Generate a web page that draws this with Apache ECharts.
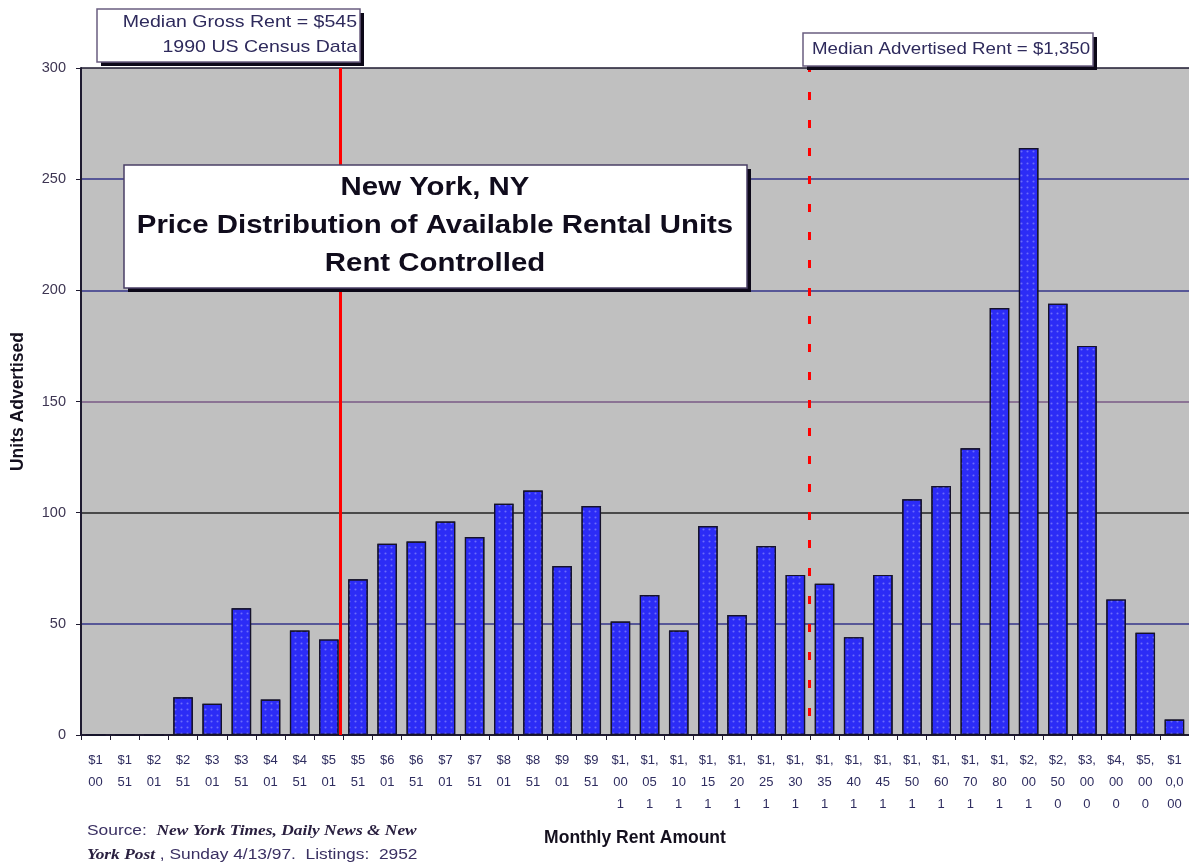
<!DOCTYPE html>
<html>
<head>
<meta charset="utf-8">
<script src="https://cdn.jsdelivr.net/npm/echarts@6/dist/echarts.min.js"></script>
<style>
  html, body { margin: 0; padding: 0; background: #ffffff; }
  #chart { width: 1189px; height: 863px; }
</style>
</head>
<body>
<div id="chart"></div>
<script>
// ---- data ----
const categories = ['$1\n00','$1\n51','$2\n01','$2\n51','$3\n01','$3\n51','$4\n01','$4\n51','$5\n01','$5\n51',
  '$6\n01','$6\n51','$7\n01','$7\n51','$8\n01','$8\n51','$9\n01','$9\n51',
  '$1,\n00\n1','$1,\n05\n1','$1,\n10\n1','$1,\n15\n1','$1,\n20\n1','$1,\n25\n1','$1,\n30\n1','$1,\n35\n1',
  '$1,\n40\n1','$1,\n45\n1','$1,\n50\n1','$1,\n60\n1','$1,\n70\n1','$1,\n80\n1','$2,\n00\n1',
  '$2,\n50\n0','$3,\n00\n0','$4,\n00\n0','$5,\n00\n0','$1\n0,0\n00'];
const binStarts = [100,151,201,251,301,351,401,451,501,551,601,651,701,751,801,851,901,951,
  1001,1051,1101,1151,1201,1251,1301,1351,1401,1451,1501,1601,1701,1801,2001,2500,3000,4000,5000,10000];
const unitsAdvertised = [0,0,0,17,14,57,16,47,43,70,86,87,96,89,104,110,76,103,
  51,63,47,94,54,85,72,68,44,72,106,112,129,192,264,194,175,61,46,7];
const yTicks = [0, 300, 50];            // min, max, interval
const medianGrossRent = 545;            // 1990 US Census
const medianAdvertisedRent = 1350;
const titleLines = ['New York, NY', 'Price Distribution of Available Rental Units', 'Rent Controlled'];
const yAxisTitle = 'Units Advertised';
const xAxisTitle = 'Monthly Rent Amount';

// position of a rent on the category band scale (band i spans i-0.5 .. i+0.5)
function rentToPos(r) {
  for (let i = 0; i < binStarts.length - 1; i++) {
    if (r >= binStarts[i] && r < binStarts[i + 1]) {
      return i - 0.5 + (r - binStarts[i]) / (binStarts[i + 1] - binStarts[i]);
    }
  }
  return binStarts.length - 1;
}
const posGross = rentToPos(medianGrossRent);
const posAdv = rentToPos(medianAdvertisedRent);

const FONT = '"Liberation Sans", Arial, sans-serif';
const chart = echarts.init(document.getElementById('chart'), null, { renderer: 'canvas' });

const option = {
  animation: false,
  backgroundColor: '#ffffff',
  grid: { left: 81, right: 0, top: 68, bottom: 128, show: true, backgroundColor: '#c0c0c0', borderWidth: 0 },
  xAxis: [{
    type: 'category',
    data: categories,
    boundaryGap: true,
    axisLine: { lineStyle: { color: '#1e1a30', width: 2 } },
    axisTick: { show: true, length: 5, lineStyle: { color: '#1e1a30' } },
    axisLabel: { interval: 0, fontFamily: FONT, fontSize: 13, lineHeight: 22, color: '#2f2d60', margin: 14 },
    name: xAxisTitle,
    nameLocation: 'middle',
    nameGap: 94,
    nameTextStyle: { fontFamily: FONT, fontWeight: 'bold', fontSize: 17.5, color: '#14101e' }
  }, {
    type: 'value', min: -0.5, max: categories.length - 0.5, show: false
  }],
  yAxis: {
    type: 'value',
    min: yTicks[0], max: yTicks[1], interval: yTicks[2],
    axisLine: { show: true, onZero: false, lineStyle: { color: '#1e1a30', width: 2 } },
    axisTick: { show: true, length: 5, lineStyle: { color: '#1e1a30' } },
    axisLabel: { fontFamily: FONT, fontSize: 14.5, color: '#3d3552', margin: 15 },
    splitLine: { show: true, lineStyle: { width: 1.5,
      color: ['#1e1a30', '#34348a', '#222222', '#7a5a86', '#34348a', '#34348a', '#1e1a30'] } },
    name: yAxisTitle,
    nameLocation: 'middle',
    nameGap: 54,
    nameRotate: 90,
    nameTextStyle: { fontFamily: FONT, fontWeight: 'bold', fontSize: 17.5, color: '#14101e' }
  },
  series: [{
    type: 'bar',
    data: unitsAdvertised,
    barCategoryGap: '33%',
    itemStyle: {
      color: '#2c2cf6',
      borderColor: '#15122a',
      borderWidth: 1.2,
      decal: { symbol: 'circle', symbolSize: 0.7, dashArrayX: 3, dashArrayY: 3, color: 'rgba(150,150,255,0.6)' }
    },
    silent: true
  }, {
    type: 'line',
    xAxisIndex: 1,
    yAxisIndex: 0,
    data: [],
    clip: false,
    z: 6,
    silent: true,
    markLine: {
      silent: true,
      symbol: 'none',
      label: { show: false },
      data: [
        [{ coord: [posGross, yTicks[0]], lineStyle: { color: '#ff0000', width: 3, type: 'solid' } },
         { coord: [posGross, yTicks[1]] }],
        [{ coord: [posAdv, yTicks[0]], lineStyle: { color: '#ff0000', width: 3, type: [8, 20], dashOffset: 9 } },
         { coord: [posAdv, yTicks[1]] }]
      ]
    }
  }],
  graphic: [
    // title box
    { type: 'rect', shape: { x: 128, y: 169, width: 623, height: 123 }, style: { fill: '#0c0818' }, z: 20 },
    { type: 'rect', shape: { x: 124, y: 165, width: 623, height: 123 },
      style: { fill: '#ffffff', stroke: '#4a3f66', lineWidth: 1.5 }, z: 21 },
    { type: 'text', x: 435, y: 226, z: 22, scaleX: 1.13,
      style: { text: titleLines.join('\n'), fontFamily: FONT, fontWeight: 'bold', fontSize: 26, lineHeight: 38,
        fill: '#100c1c', align: 'center', verticalAlign: 'middle' } },
    // median gross rent box
    { type: 'rect', shape: { x: 101, y: 13, width: 263, height: 53 }, style: { fill: '#0c0818' }, z: 20 },
    { type: 'rect', shape: { x: 97, y: 9, width: 263, height: 53 },
      style: { fill: '#ffffff', stroke: '#6a5d80', lineWidth: 1.5 }, z: 21 },
    { type: 'text', x: 357, y: 35, z: 22, scaleX: 1.15,
      style: { text: 'Median Gross Rent = $' + medianGrossRent + '\n1990 US Census Data', fontFamily: FONT, fontSize: 17,
        lineHeight: 25, fill: '#2e2a5c', align: 'right', verticalAlign: 'middle' } },
    // median advertised rent box
    { type: 'rect', shape: { x: 807, y: 37, width: 290, height: 33 }, style: { fill: '#0c0818' }, z: 20 },
    { type: 'rect', shape: { x: 803, y: 33, width: 290, height: 33 },
      style: { fill: '#ffffff', stroke: '#6a5d80', lineWidth: 1.5 }, z: 21 },
    { type: 'text', x: 812, y: 49, z: 22, scaleX: 1.1,
      style: { text: 'Median Advertised Rent = $' + medianAdvertisedRent.toLocaleString('en-US'), fontFamily: FONT, fontSize: 17,
        fill: '#2e2a5c', align: 'left', verticalAlign: 'middle' } },
    // source note
    { type: 'text', x: 87, y: 843, z: 22, scaleX: 1.12,
      style: {
        text: '{r|Source:  }{i|New York Times, Daily News & New}\n{i|York Post}{r| , Sunday 4/13/97.  Listings:  2952}',
        verticalAlign: 'middle', lineHeight: 24,
        rich: {
          r: { fontFamily: FONT, fontSize: 15.5, fill: '#3a3062', lineHeight: 24 },
          i: { fontFamily: '"Liberation Serif", "Times New Roman", serif', fontStyle: 'italic', fontWeight: 'bold', fontSize: 15.5, fill: '#2a2040', lineHeight: 24 }
        }
      } }
  ]
};
chart.setOption(option);
</script>
</body>
</html>
